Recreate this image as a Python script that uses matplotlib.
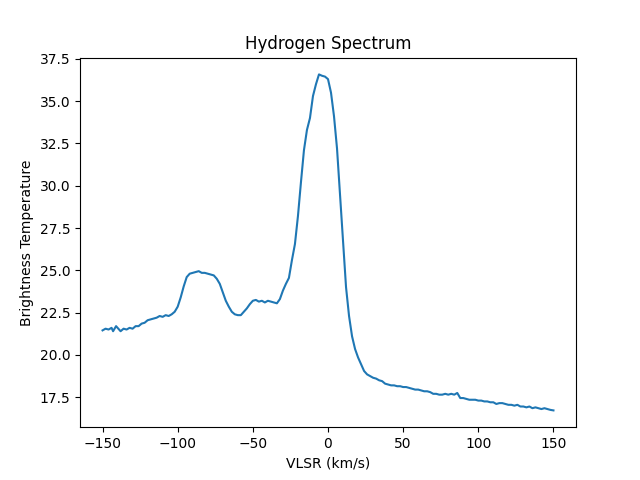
import numpy as np
import matplotlib
matplotlib.use("Agg")
import matplotlib.pyplot as plt

# velocity (km/s) and brightness temperature
vlsr = [-150, -148, -146, -144, -143, -141, -139, -138, -136, -134, -132, -130,
        -128, -126, -124, -122, -120, -118, -116, -114, -112, -110, -108, -106,
        -104, -102, -100, -98, -96, -94, -92, -90, -88, -86, -84, -82, -80, -78,
        -76, -74, -72, -70, -68, -66, -64, -62, -60, -58, -56, -54, -52, -50,
        -48, -46, -44, -42, -40, -38, -36, -34, -32, -30, -28, -26, -24, -22,
        -20, -18, -16, -14, -12, -10, -8, -6, -4, -2, 0, 2, 4, 6, 8, 10, 12, 14,
        16, 18, 20, 22, 24, 26, 28, 30, 32, 34, 36, 38, 40, 42, 44, 46, 48, 50,
        52, 54, 56, 58, 60, 62, 64, 66, 68, 70, 72, 74, 76, 78, 80, 82, 84, 86,
        88, 90, 92, 94, 96, 98, 100, 102, 104, 106, 108, 110, 112, 114, 116, 118,
        120, 122, 124, 126, 128, 130, 132, 134, 136, 138, 140, 142, 144, 146,
        148, 150]
temp = [21.45, 21.55, 21.5, 21.6, 21.4, 21.7, 21.5, 21.4, 21.55, 21.5, 21.6, 21.55,
        21.7, 21.7, 21.85, 21.9, 22.05, 22.1, 22.15, 22.2, 22.3, 22.25, 22.35, 22.3,
        22.4, 22.55, 22.85, 23.4, 24.05, 24.6, 24.8, 24.85, 24.9, 24.95, 24.85, 24.85,
        24.8, 24.75, 24.7, 24.5, 24.2, 23.7, 23.2, 22.85, 22.55, 22.4, 22.35, 22.35,
        22.55, 22.75, 23.0, 23.2, 23.25, 23.15, 23.2, 23.1, 23.2, 23.15, 23.1, 23.05,
        23.3, 23.8, 24.2, 24.55, 25.6, 26.55, 28.2, 30.2, 32.1, 33.3, 34.0, 35.3,
        36.0, 36.58, 36.5, 36.45, 36.3, 35.5, 34.1, 32.2, 29.5, 26.7, 24.0, 22.3,
        21.1, 20.35, 19.85, 19.45, 19.05, 18.85, 18.75, 18.65, 18.6, 18.5, 18.45,
        18.3, 18.25, 18.2, 18.2, 18.15, 18.15, 18.1, 18.1, 18.05, 18.0, 17.95, 17.95,
        17.9, 17.85, 17.85, 17.8, 17.7, 17.7, 17.65, 17.65, 17.7, 17.65, 17.7, 17.65,
        17.75, 17.45, 17.45, 17.4, 17.35, 17.35, 17.35, 17.3, 17.3, 17.25, 17.25,
        17.2, 17.2, 17.1, 17.15, 17.15, 17.1, 17.05, 17.05, 17.0, 17.05, 16.95,
        16.95, 16.9, 16.95, 16.85, 16.9, 16.85, 16.8, 16.85, 16.8, 16.75, 16.72]

fig, ax = plt.subplots(figsize=(6.4, 4.8), dpi=100)
ax.plot(vlsr, temp)
ax.set_title("Hydrogen Spectrum")
ax.set_xlabel("VLSR (km/s)")
ax.set_ylabel("Brightness Temperature")
fig.savefig("out.png")
